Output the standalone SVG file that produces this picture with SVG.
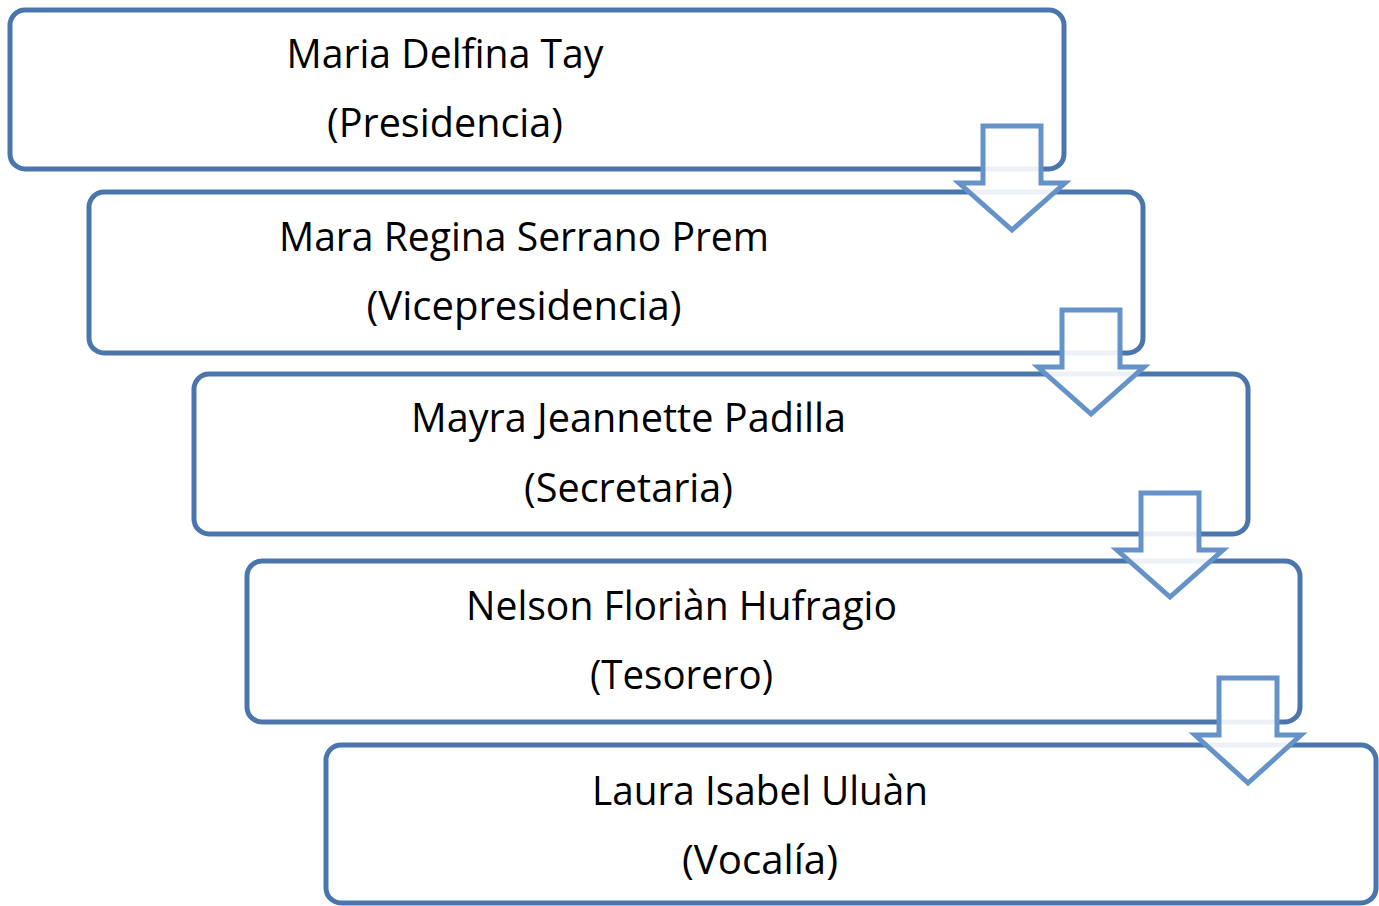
<svg xmlns="http://www.w3.org/2000/svg" width="1379" height="906" viewBox="0 0 1379 906">
<style>
.box{fill:#ffffff;stroke:#4a76ad;stroke-width:5}
.arr{fill:#ffffff;fill-opacity:0.9;stroke:#6592c9;stroke-width:5;stroke-linejoin:miter}
.t{font-family:"Open Sans","Liberation Sans",sans-serif;font-size:40px;fill:#000000;text-anchor:middle}
</style>
<rect width="1379" height="906" fill="#ffffff"/>
<g id="node1"><rect class="box" x="10" y="10" width="1054" height="159" rx="15"/>
<text class="t" x="445" y="68" textLength="317" lengthAdjust="spacingAndGlyphs">Maria Delfina Tay</text>
<text class="t" x="445" y="137" textLength="236" lengthAdjust="spacingAndGlyphs">(Presidencia)</text></g>
<g id="node2"><rect class="box" x="89" y="192" width="1054" height="161" rx="15"/>
<text class="t" x="524" y="251" textLength="490" lengthAdjust="spacingAndGlyphs">Mara Regina Serrano Prem</text>
<text class="t" x="524" y="320" textLength="315" lengthAdjust="spacingAndGlyphs">(Vicepresidencia)</text></g>
<g id="node3"><rect class="box" x="194" y="374" width="1054" height="160" rx="15"/>
<text class="t" x="628.5" y="432" textLength="435" lengthAdjust="spacingAndGlyphs">Mayra Jeannette Padilla</text>
<text class="t" x="628.5" y="502" textLength="209" lengthAdjust="spacingAndGlyphs">(Secretaria)</text></g>
<g id="node4"><rect class="box" x="247" y="561" width="1053" height="161" rx="15"/>
<text class="t" x="681.5" y="620" textLength="431" lengthAdjust="spacingAndGlyphs">Nelson Floriàn Hufragio</text>
<text class="t" x="681.5" y="689" textLength="183" lengthAdjust="spacingAndGlyphs">(Tesorero)</text></g>
<g id="node5"><rect class="box" x="326" y="745" width="1050" height="158" rx="15"/>
<text class="t" x="760" y="805" textLength="336" lengthAdjust="spacingAndGlyphs">Laura Isabel Uluàn</text>
<text class="t" x="760" y="874" textLength="156" lengthAdjust="spacingAndGlyphs">(Vocalía)</text></g>
<g id="connectors">
<path class="arr" d="M983,126 H1041 V183 H1065 L1012,230 L959,183 H983 Z"/>
<path class="arr" d="M1062,310 H1120 V367 H1144 L1091,414 L1038,367 H1062 Z"/>
<path class="arr" d="M1141,493 H1199 V550 H1223 L1170,597 L1117,550 H1141 Z"/>
<path class="arr" d="M1219,678 H1277 V735 H1301 L1248,783 L1195,735 H1219 Z"/>
</g>
</svg>
